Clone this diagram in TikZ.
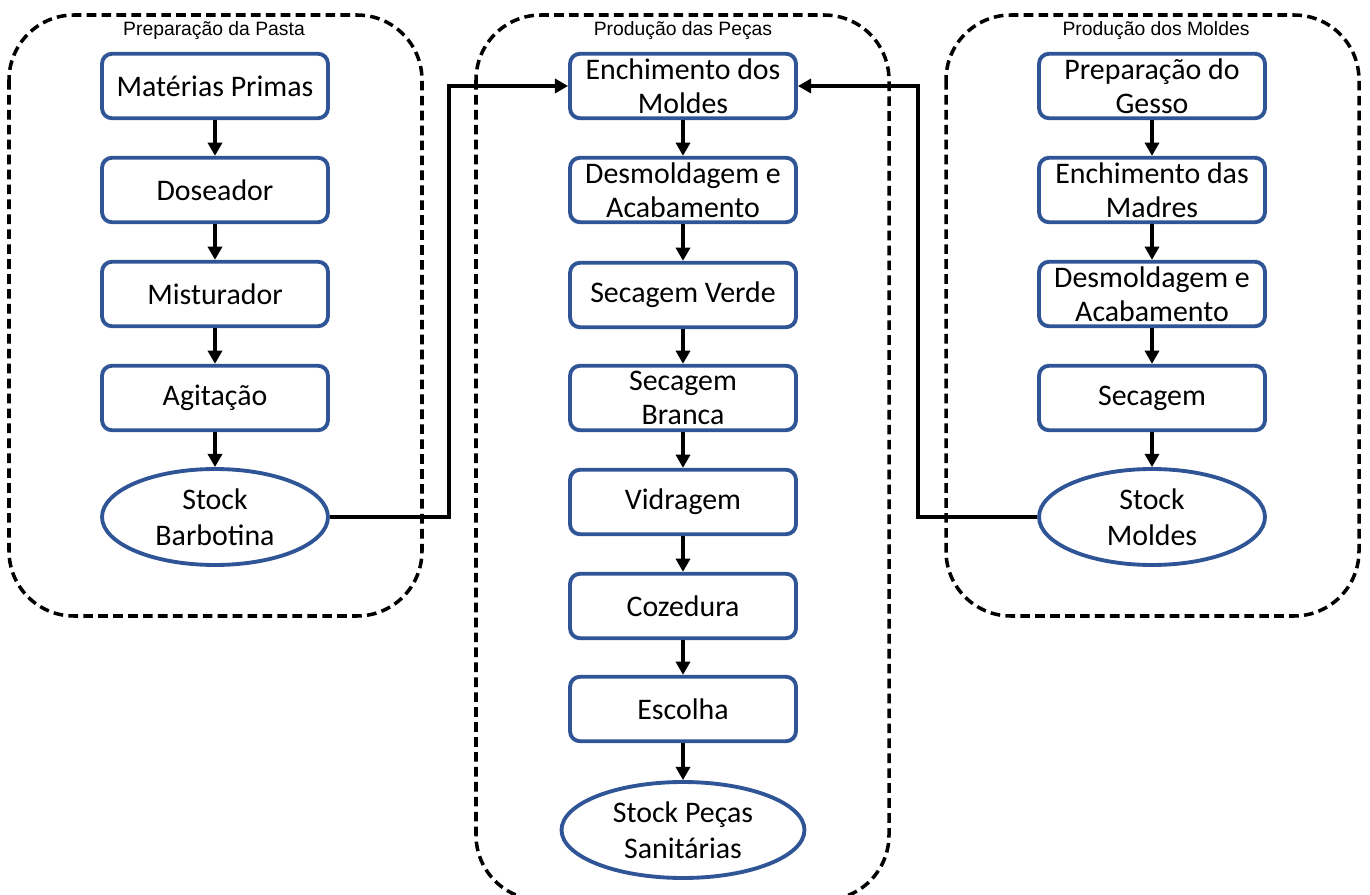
\documentclass[tikz,border=0pt]{standalone}
\usepackage{fontspec}
\setmainfont{Carlito}
\newfontfamily\titlefont{Liberation Sans}
\usetikzlibrary{arrows.meta,shapes.geometric}
\definecolor{boxblue}{HTML}{2F5597}
\begin{document}
\begin{tikzpicture}[x=0.02cm,y=-0.02cm,
  proc/.style={draw=boxblue,line width=2.2pt,rounded corners=0.2cm,minimum width=4.52cm,minimum height=1.29cm,inner sep=0pt,align=center,fill=white,font=\fontsize{17}{19.5}\selectfont},
  stockell/.style={ellipse,draw=boxblue,line width=2.2pt,minimum width=4.52cm,minimum height=1.92cm,inner sep=0pt,align=center,fill=white,font=\fontsize{17}{20.5}\selectfont},
  group/.style={draw,line width=2pt,dash pattern=on 5.5pt off 3pt,rounded corners=1.3cm},
  grouptitle/.style={font=\titlefont\fontsize{11}{13}\selectfont,inner sep=0pt},
  flow/.style={line width=2.3pt,-{Triangle[length=7.5pt,width=8pt]}},
  link/.style={line width=2.3pt,-{Triangle[length=7.5pt,width=8pt]}},
]
\clip (0,0) rectangle (1370,895);
% groups
\draw[group] (9,15) rectangle (422,616);
\draw[group] (476,15) rectangle (889,900);
\draw[group] (946,15) rectangle (1359,616);
\node[grouptitle] (t1) at (214,31) {Preparação da Pasta};
\node[grouptitle] (t2) at (683,31) {Produção das Peças};
\node[grouptitle] (t3) at (1156,31) {Produção dos Moldes};
% junction points of the links between groups
\coordinate (lx) at (449,86);
\coordinate (rx) at (918,86);
% left column
\node[proc] (mp) at (215,86) {Matérias Primas};
\node[proc] (dos) at (215,190) {Doseador};
\node[proc] (mis) at (215,294) {Misturador};
\node[proc] (agi) at (215,398) {Agitação};
\node[stockell] (sb) at (215,517) {Stock\\Barbotina};
% middle column
\node[proc] (ench) at (683,86) {Enchimento dos\\Moldes};
\node[proc] (desm) at (683,190) {Desmoldagem e\\Acabamento};
\node[proc] (sv) at (683,295) {Secagem Verde};
\node[proc] (sbr) at (683,398) {Secagem\\Branca};
\node[proc] (vid) at (683,502) {Vidragem};
\node[proc] (coz) at (683,606) {Cozedura};
\node[proc] (esc) at (683,709) {Escolha};
\node[stockell,minimum width=4.86cm] (sps) at (683,830) {Stock Peças\\Sanitárias};
% right column
\node[proc] (pg) at (1152,86) {Preparação do\\Gesso};
\node[proc] (em) at (1152,190) {Enchimento das\\Madres};
\node[proc] (dm) at (1152,294) {Desmoldagem e\\Acabamento};
\node[proc] (sec) at (1152,398) {Secagem};
\node[stockell] (sm) at (1152,517) {Stock\\Moldes};
% flows
\draw[flow] (mp) -- (dos);
\draw[flow] (dos) -- (mis);
\draw[flow] (mis) -- (agi);
\draw[flow] (agi) -- (sb);
\draw[flow] (ench) -- (desm);
\draw[flow] (desm) -- (sv);
\draw[flow] (sv) -- (sbr);
\draw[flow] (sbr) -- (vid);
\draw[flow] (vid) -- (coz);
\draw[flow] (coz) -- (esc);
\draw[flow] (esc) -- (sps);
\draw[flow] (pg) -- (em);
\draw[flow] (em) -- (dm);
\draw[flow] (dm) -- (sec);
\draw[flow] (sec) -- (sm);
\draw[link] (sb.east) -| (lx) -- (ench.west);
\draw[link] (sm.west) -| (rx) -- (ench.east);
\end{tikzpicture}
\end{document}
